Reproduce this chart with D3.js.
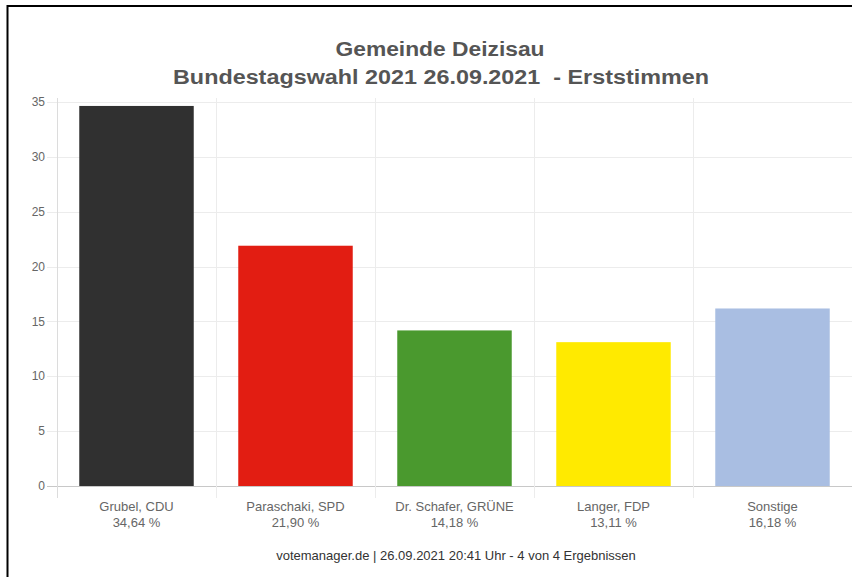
<!DOCTYPE html>
<html><head><meta charset="utf-8">
<script src="https://cdn.jsdelivr.net/npm/d3@7"></script>
<style>html,body{margin:0;padding:0;background:#fff}svg{display:block}</style>
</head><body>
<svg id="c" width="852" height="577"></svg>
<script>
const categories = ["Grubel, CDU", "Paraschaki, SPD", "Dr. Schafer, GRÜNE", "Langer, FDP", "Sonstige"];
const values = [34.64, 21.90, 14.18, 13.11, 16.18];
const valueLabels = ["34,64 %", "21,90 %", "14,18 %", "13,11 %", "16,18 %"];
const colors = ["#303030", "#e21d12", "#4a992e", "#ffea00", "#a9bee2"];
const yTicks = [0, 5, 10, 15, 20, 25, 30, 35];
const titleLines = ["Gemeinde Deizisau", "Bundestagswahl 2021 26.09.2021  - Erststimmen"];
const footer = "votemanager.de | 26.09.2021 20:41 Uhr - 4 von 4 Ergebnissen";

(function () {
const svg = d3.select("#c");
const font = "'Liberation Sans', Arial, sans-serif";
svg.append("rect").attr("width", 852).attr("height", 577).attr("fill", "#fff");

const pLeft = 57, pRight = 852, pTop = 102, pBottom = 486;
const x = d3.scaleBand().domain(categories).range([pLeft, pRight]).paddingInner(0.28).paddingOuter(0.14);
const y = d3.scaleLinear().domain([0, 35]).range([pBottom, pTop]);
const step = x.step();

// horizontal gridlines
svg.append("g").selectAll("line").data(yTicks).join("line")
  .attr("x1", 47).attr("x2", pRight)
  .attr("y1", d => Math.round(y(d)) + 0.5).attr("y2", d => Math.round(y(d)) + 0.5)
  .attr("stroke", d => d === 0 ? "#c8c8c8" : "#ececec").attr("stroke-width", 1);

// vertical gridlines at category boundaries
const bounds = d3.range(categories.length + 1).map(i => pLeft + i * step);
svg.append("g").selectAll("line").data(bounds).join("line")
  .attr("x1", d => Math.round(d) + 0.5).attr("x2", d => Math.round(d) + 0.5)
  .attr("y1", pTop - 4).attr("y2", pBottom + 12)
  .attr("stroke", (d, i) => i === 0 ? "#dcdcdc" : "#ececec").attr("stroke-width", 1);

// y tick labels
svg.append("g").selectAll("text").data(yTicks).join("text")
  .attr("x", 45).attr("y", d => y(d)).attr("dy", "0.35em")
  .attr("text-anchor", "end").attr("font-family", font).attr("font-size", 12)
  .attr("fill", "#666").text(d => d);

// bars
svg.append("g").selectAll("rect").data(categories).join("rect")
  .attr("x", d => x(d)).attr("width", x.bandwidth())
  .attr("y", (d, i) => y(values[i])).attr("height", (d, i) => y(0) - y(values[i]))
  .attr("fill", (d, i) => colors[i]);

// category labels
const lab = svg.append("g");
lab.selectAll("text.n").data(categories).join("text").attr("class", "n")
  .attr("x", d => x(d) + x.bandwidth() / 2).attr("y", 511)
  .attr("text-anchor", "middle").attr("font-family", font).attr("font-size", 13)
  .attr("fill", "#666").text(d => d);
lab.selectAll("text.v").data(categories).join("text").attr("class", "v")
  .attr("x", d => x(d) + x.bandwidth() / 2).attr("y", 527)
  .attr("text-anchor", "middle").attr("font-family", font).attr("font-size", 13)
  .attr("fill", "#666").text((d, i) => valueLabels[i]);

// titles
svg.append("text").attr("x", 440).attr("y", 56).attr("text-anchor", "middle")
  .attr("font-family", font).attr("font-size", 20).attr("font-weight", "bold")
  .attr("fill", "#555").attr("textLength", 209).attr("lengthAdjust", "spacingAndGlyphs")
  .text(titleLines[0]);
svg.append("text").attr("x", 441).attr("y", 84).attr("text-anchor", "middle")
  .attr("font-family", font).attr("font-size", 20).attr("font-weight", "bold")
  .attr("fill", "#555").attr("textLength", 536).attr("lengthAdjust", "spacingAndGlyphs")
  .style("white-space", "pre")
  .text(titleLines[1]);

// footer
svg.append("text").attr("x", 456).attr("y", 560).attr("text-anchor", "middle")
  .attr("font-family", font).attr("font-size", 13).attr("fill", "#333")
  .text(footer);

// outer frame
svg.append("line").attr("x1", 7).attr("x2", 852).attr("y1", 6).attr("y2", 6)
  .attr("stroke", "#000").attr("stroke-width", 2);
svg.append("line").attr("x1", 7.5).attr("x2", 7.5).attr("y1", 5).attr("y2", 577)
  .attr("stroke", "#000").attr("stroke-width", 2);
})();
</script>
</body></html>
